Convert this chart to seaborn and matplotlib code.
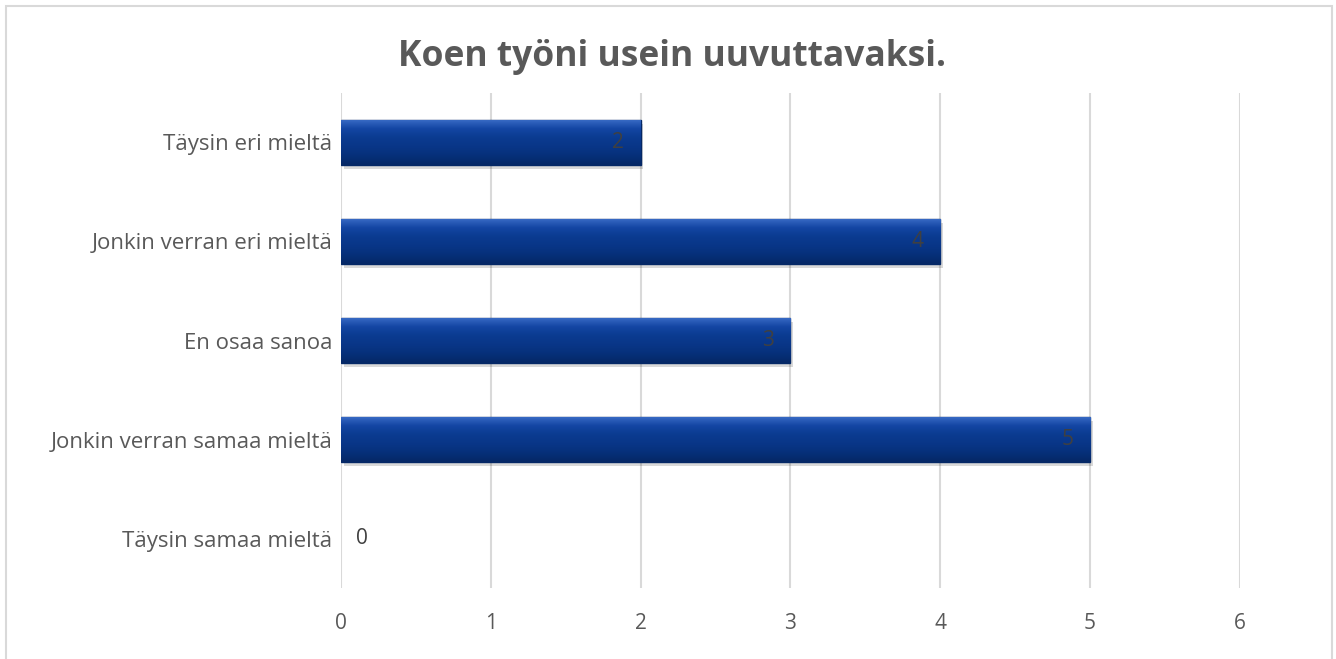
import numpy as np
import pandas as pd
import matplotlib
matplotlib.use("Agg")
import matplotlib.pyplot as plt
import matplotlib.patheffects as pe
from matplotlib.patches import Rectangle
import seaborn as sns

# Data
categories = ["Täysin eri mieltä", "Jonkin verran eri mieltä", "En osaa sanoa",
              "Jonkin verran samaa mieltä", "Täysin samaa mieltä"]
counts = [2, 4, 3, 5, 0]
title = "Koen työni usein uuvuttavaksi."

df = pd.DataFrame({"vastaus": categories, "lkm": counts})

sns.set_style("white")
plt.rcParams["font.family"] = ["Open Sans", "DejaVu Sans"]

gray = "#595959"

fig = plt.figure(figsize=(13.36, 6.59), dpi=100)
ax = fig.add_axes([0.2552, 0.1077, 0.6728, 0.7512])

sns.barplot(data=df, x="lkm", y="vastaus", color="#0a3a8e", width=0.46,
            saturation=1, ax=ax, zorder=3)

# gradient + bevel look on the bars
grad = np.linspace(0, 1, 64).reshape(-1, 1)
cmap = matplotlib.colors.LinearSegmentedColormap.from_list(
    "bevel", ["#3a6cc6", "#1446a4", "#0b3b90", "#093688", "#06307a", "#052866"])
for p in ax.patches:
    if p.get_width() <= 0:
        p.set_visible(False)
        continue
    x0, y0 = p.get_x(), p.get_y()
    w, h = p.get_width(), p.get_height()
    p.set_edgecolor("#052866")
    p.set_linewidth(1)
    p.set_path_effects([pe.withSimplePatchShadow(offset=(2, -3), shadow_rgbFace="#000000", alpha=0.15)])
    im = ax.imshow(grad, extent=[x0, x0 + w, y0 + h, y0], aspect="auto",
                   cmap=cmap, zorder=3.5, interpolation="bicubic")
    im.set_clip_path(p)

# data labels
for i, v in enumerate(counts):
    if v > 0:
        ax.text(v - 0.11, i, str(v), ha="right", va="center", fontsize=15,
                color="#404040", zorder=5)
    else:
        ax.text(v + 0.1, i, str(v), ha="left", va="center", fontsize=15,
                color="#404040", zorder=5)

ax.set_xlim(0, 6)
ax.set_ylim(4.5, -0.5)
ax.set_xticks(range(0, 7))
ax.xaxis.grid(True, color="#d9d9d9", linewidth=1.5, zorder=0)
ax.set_axisbelow(True)
for s in ax.spines.values():
    s.set_visible(False)
ax.tick_params(axis="both", length=0, labelsize=15, colors=gray)
ax.tick_params(axis="y", labelsize=16, pad=6)
ax.tick_params(axis="x", pad=18)
ax.set_xlabel("")
ax.set_ylabel("")

fig.text(0.503, 0.913, title, ha="center", va="center", fontsize=25.5,
         fontweight="bold", color=gray)

# chart border
fig.patches.append(Rectangle((0.0045, -0.01), 0.9925, 1.0009,
                             transform=fig.transFigure, fill=False,
                             edgecolor="#d9d9d9", linewidth=1.5))

fig.savefig("out.png", dpi=100)
